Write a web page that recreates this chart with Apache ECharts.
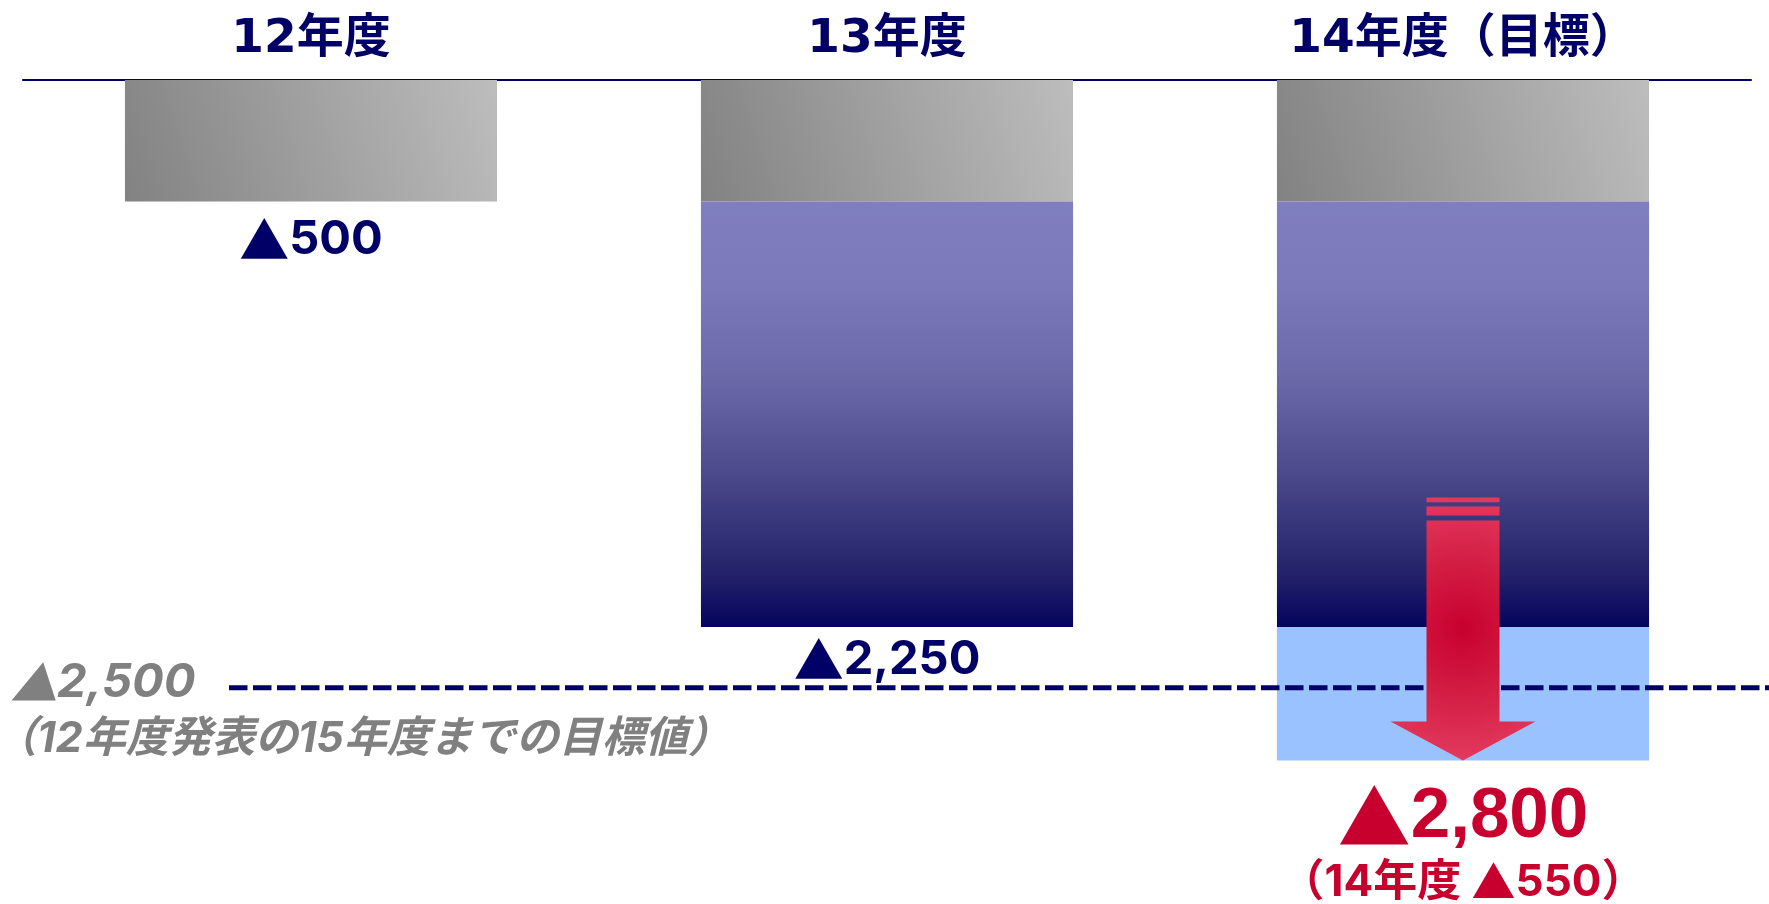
<!DOCTYPE html>
<html>
<head>
<meta charset="utf-8">
<script src="https://cdn.jsdelivr.net/npm/echarts@6/dist/echarts.min.js"></script>
<style>
  html, body { margin: 0; padding: 0; background: #ffffff; }
  #chart { width: 1769px; height: 904px; }
</style>
</head>
<body>
<div id="chart"></div>
<script>
// Fiscal years (column headings) and short names used in the notes
const years = ['12年度', '13年度', '14年度（目標）'];
const yearShort = ['12年度', '13年度', '14年度'];

// Stacked segments of the cumulative reduction
const basePart = [500, 500, 500];      // achieved in 12年度
const fy13Part = [null, 1750, 1750];   // added in 13年度
const fy14Part = [null, null, 550];    // added in 14年度 (target)

// Cumulative totals printed under each column
const cumulative = [500, 2250, 2800];
const fy14Step = 550;

// Earlier published target for 15年度
const targetValue = 2500;
const targetNote = '（12年度発表の15年度までの目標値）';

const NAVY = '#000066';
const RED = '#c8002e';
const GRAY = '#808080';
const num = v => v.toLocaleString('en-US');
const tri = '▲';
const CJK = '"Noto Sans CJK JP", sans-serif';
const WIDE = 'Inter, "Noto Sans CJK JP", sans-serif';
const HEAD = '"DejaVu Sans", "Noto Sans CJK JP", sans-serif';

const chart = echarts.init(document.getElementById('chart'));

const grayFill = new echarts.graphic.LinearGradient(0, 1, 1, 0, [
  { offset: 0, color: '#828282' },
  { offset: 1, color: '#bdbdbd' }
]);
const blueFill = new echarts.graphic.LinearGradient(0, 0, 0, 1, [
  { offset: 0, color: '#7f7ebf' },
  { offset: 0.2, color: '#7b79b9' },
  { offset: 0.42, color: '#6b68a8' },
  { offset: 0.65, color: '#4a488a' },
  { offset: 0.88, color: '#222169' },
  { offset: 1, color: '#05045e' }
]);

// Navy value labels: large triangle + wide bold digits
const navyRich = {
  t: { color: NAVY, fontFamily: CJK, fontSize: 50, lineHeight: 52 },
  n: { color: NAVY, fontFamily: WIDE, fontWeight: 'bold', fontSize: 47, lineHeight: 52 }
};
const navyLabel = p => '{t|' + tri + '}{n|' + num(cumulative[p.dataIndex]) + '}';

chart.setOption({
  animation: false,
  backgroundColor: '#ffffff',
  grid: { left: 23, right: 18, top: 80, bottom: 0, containLabel: false },
  xAxis: {
    type: 'category',
    position: 'top',
    data: years,
    axisLine: { show: true, onZero: false, lineStyle: { color: NAVY, width: 2 } },
    axisTick: { show: false },
    splitLine: { show: false },
    axisLabel: {
      margin: 40,
      verticalAlign: 'middle',
      color: NAVY,
      fontFamily: HEAD,
      fontWeight: 'bold',
      fontSize: 47
    }
  },
  yAxis: {
    type: 'value',
    inverse: true,
    min: 0,
    max: 3390,
    show: false,
    splitLine: { show: false }
  },
  series: [
    {
      type: 'bar',
      stack: 'total',
      barWidth: '64.6%',
      itemStyle: { color: grayFill },
      label: { show: false, position: 'bottom', distance: 12, formatter: navyLabel, rich: navyRich },
      data: basePart.map((v, i) => ({ value: v, label: { show: i === 0 } }))
    },
    {
      type: 'bar',
      stack: 'total',
      barWidth: '64.6%',
      itemStyle: { color: blueFill },
      label: { show: false, position: 'bottom', distance: 7, formatter: navyLabel, rich: navyRich },
      data: fy13Part.map((v, i) => ({ value: v, label: { show: i === 1 } }))
    },
    {
      type: 'bar',
      stack: 'total',
      barWidth: '64.6%',
      itemStyle: { color: '#9ac2fe' },
      label: {
        show: false,
        position: 'bottom',
        distance: 22,
        formatter: p => '{bt|' + tri + '}{big|' + num(cumulative[p.dataIndex]) + '}\n' +
          '{small|（' + yearShort[p.dataIndex] + ' }{st|' + tri + '}{small|' + num(fy14Step) + '）}',
        rich: {
          bt: { color: RED, fontFamily: CJK, fontSize: 73, lineHeight: 70 },
          big: {
            color: RED,
            fontFamily: '"Liberation Sans", sans-serif',
            fontWeight: 'bold',
            fontSize: 71,
            lineHeight: 70
          },
          small: { color: RED, fontFamily: WIDE, fontWeight: 'bold', fontSize: 44, lineHeight: 60 },
          st: { color: RED, fontFamily: CJK, fontSize: 44, lineHeight: 60 }
        }
      },
      data: fy14Part.map((v, i) => ({ value: v, label: { show: i === 2 } }))
    }
  ]
});

// Target line, its note and the downward arrow, placed through the chart's own scales
function drawOverlays() {
  const lineY = chart.convertToPixel({ yAxisIndex: 0 }, targetValue);
  const tip = chart.convertToPixel({ gridIndex: 0 }, [years[2], cumulative[2]]);
  const tx = tip[0], ty = tip[1];
  const bodyHalf = 36.5, headHalf = 72.5, headH = 39, bodyLen = 240;

  const arrowFill = new echarts.graphic.RadialGradient(tx, ty - 132, 140, [
    { offset: 0, color: '#c8002e' },
    { offset: 0.45, color: '#d21c42' },
    { offset: 1, color: '#e43d60' }
  ], true);

  chart.setOption({
    graphic: [
      {
        type: 'line', z: 10, silent: true,
        shape: { x1: 229, y1: lineY, x2: 1769, y2: lineY },
        style: { stroke: NAVY, lineWidth: 5, lineDash: [18.5, 5.5] }
      },
      {
        type: 'polygon', z: 20, silent: true,
        shape: {
          points: [
            [tx - bodyHalf, ty - bodyLen],
            [tx + bodyHalf, ty - bodyLen],
            [tx + bodyHalf, ty - headH],
            [tx + headHalf, ty - headH],
            [tx, ty],
            [tx - headHalf, ty - headH],
            [tx - bodyHalf, ty - headH]
          ]
        },
        style: { fill: arrowFill }
      },
      {
        type: 'rect', z: 20, silent: true,
        shape: { x: tx - bodyHalf, y: ty - 254, width: bodyHalf * 2, height: 9 },
        style: { fill: arrowFill }
      },
      {
        type: 'rect', z: 20, silent: true,
        shape: { x: tx - bodyHalf, y: ty - 263, width: bodyHalf * 2, height: 4.7 },
        style: { fill: arrowFill }
      },
      {
        type: 'text', z: 10, silent: true,
        x: 10, y: 683,
        style: {
          text: '{t|' + tri + '}{n|' + num(targetValue) + '}',
          verticalAlign: 'middle',
          align: 'left',
          rich: {
            t: { fill: GRAY, fontFamily: CJK, fontStyle: 'italic', fontSize: 47 },
            n: { fill: GRAY, fontFamily: WIDE, fontStyle: 'italic', fontWeight: 'bold', fontSize: 47 }
          }
        }
      },
      {
        type: 'text', z: 10, silent: true,
        x: -6, y: 739,
        style: {
          text: targetNote,
          fill: GRAY,
          fontFamily: WIDE,
          fontStyle: 'italic',
          fontWeight: 'bold',
          fontSize: 43,
          verticalAlign: 'middle',
          align: 'left'
        }
      }
    ]
  });
}
drawOverlays();
</script>
</body>
</html>
